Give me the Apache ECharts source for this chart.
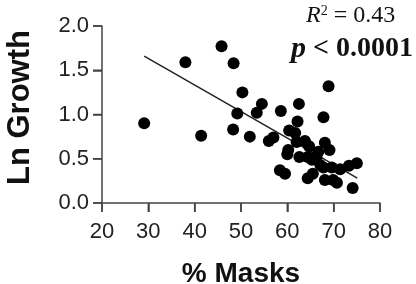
<!DOCTYPE html>
<html>
<head>
<meta charset="utf-8">
<script src="https://cdn.jsdelivr.net/npm/echarts@6/dist/echarts.min.js"></script>
<style>
  html, body { margin: 0; padding: 0; background: #fff; }
  #chart { width: 416px; height: 284px; }
</style>
</head>
<body>
<div id="chart"></div>
<script>
// % masks vs ln growth
var masks = [29.1, 38.0, 45.8, 48.4, 50.3, 41.4, 49.2, 48.3, 53.4, 54.5,
    51.9, 58.6, 62.5, 62.2, 68.9, 67.8, 56.0, 57.0, 60.4, 61.7,
    62.0, 63.8, 64.7, 68.1, 69.1, 60.2, 60.0, 62.6, 64.4, 65.3,
    66.7, 66.3, 67.1, 67.8, 69.6, 71.4, 73.3, 75.0, 58.4, 59.5,
    64.4, 65.5, 68.1, 69.9, 70.7, 74.1];
var lnGrowth = [0.90, 1.59, 1.77, 1.58, 1.25, 0.76, 1.01, 0.83, 1.02, 1.12,
    0.75, 1.04, 1.12, 0.92, 1.32, 0.97, 0.70, 0.74, 0.82, 0.79,
    0.69, 0.70, 0.64, 0.68, 0.60, 0.60, 0.55, 0.52, 0.52, 0.49,
    0.58, 0.52, 0.43, 0.40, 0.40, 0.38, 0.42, 0.45, 0.37, 0.33,
    0.28, 0.33, 0.26, 0.26, 0.23, 0.17];
// fitted line ends
var fitX = [29.1, 75.1];
var fitY = [1.66, 0.28];
var xTicks = [20, 30, 40, 50, 60, 70, 80];
var yTicks = ['0.0', '0.5', '1.0', '1.5', '2.0'];

var pts = [];
for (var i = 0; i < masks.length; i++) {
    pts.push([masks[i], lnGrowth[i]]);
}
var fit = [[fitX[0], fitY[0]], [fitX[1], fitY[1]]];

var xTickData = xTicks.map(function (v) { return [v, 0]; });
var yTickData = yTicks.map(function (t) { return [20, parseFloat(t)]; });

var axisCol = '#444';

// ticks as small filled rects, placed through the axes
function tickSeries(data, vertical) {
    return {
        type: 'custom', data: data, clip: false, silent: true, z: 5,
        renderItem: function (params, api) {
            var p = api.coord([api.value(0), api.value(1)]);
            var shape = vertical
                ? { x: p[0] - 0.75, y: p[1], width: 1.5, height: 9 }
                : { x: p[0] - 9, y: p[1] - 0.75, width: 9, height: 1.5 };
            return { type: 'rect', shape: shape, style: { fill: axisCol } };
        }
    };
}

var myChart = echarts.init(document.getElementById('chart'));
myChart.setOption({
    animation: false,
    grid: { left: 102, right: 36, top: 26, bottom: 81, outerBoundsMode: 'none', containLabel: false },
    xAxis: {
        type: 'value', min: 20, max: 80, interval: 10,
        name: '% Masks', nameLocation: 'middle', nameGap: 57,
        nameTextStyle: { fontFamily: 'Liberation Sans', fontWeight: 'bold', fontSize: 28, color: '#111' },
        axisLine: { show: true, onZero: false, lineStyle: { color: axisCol, width: 1.5 } },
        axisTick: { show: true, length: 9, lineStyle: { color: axisCol, width: 1.5 } },
        axisLabel: {
            fontFamily: 'Liberation Sans', fontSize: 22, color: '#222', margin: 18,
            formatter: function (v) { return xTicks.indexOf(v) >= 0 ? String(v) : ''; }
        },
        splitLine: { show: false }
    },
    yAxis: {
        type: 'value', min: 0, max: 2, interval: 0.5,
        name: 'Ln Growth', nameLocation: 'middle', nameGap: 66, nameRotate: 90,
        nameTextStyle: { fontFamily: 'Liberation Sans', fontWeight: 'bold', fontSize: 31, color: '#111', padding: [0, 0, 0, 14] },
        axisLine: { show: true, onZero: false, lineStyle: { color: axisCol, width: 1.5 } },
        axisTick: { show: true, length: 9, lineStyle: { color: axisCol, width: 1.5 } },
        axisLabel: {
            fontFamily: 'Liberation Sans', fontSize: 22, color: '#222', margin: 13,
            formatter: function (v) { return yTicks[Math.round(v * 2)]; }
        },
        splitLine: { show: false }
    },
    graphic: [
        {
            type: 'text', left: 306, top: 4,
            style: {
                text: '{i|R}{s|2} = 0.43',
                font: '24px "Liberation Serif"', fill: '#111',
                rich: {
                    i: { fontFamily: 'Liberation Serif', fontStyle: 'italic', fontSize: 24 },
                    s: { fontFamily: 'Liberation Serif', fontSize: 14, verticalAlign: 'top', padding: [0, 0, 10, 0] }
                }
            }
        },
        {
            type: 'text', left: 291, top: 34,
            style: {
                text: '{i|p} < 0.0001',
                font: 'bold 28px "Liberation Serif"', fill: '#111',
                rich: {
                    i: { fontFamily: 'Liberation Serif', fontStyle: 'italic', fontWeight: 'bold', fontSize: 30 }
                }
            }
        }
    ],
    series: [
        {
            type: 'line', data: fit, symbol: 'none',
            lineStyle: { color: '#222', width: 1.5 }, z: 1
        },
        {
            type: 'scatter', data: pts, symbolSize: 12,
            itemStyle: { color: '#000', opacity: 1 }, z: 2
        },
        tickSeries(xTickData, true),
        tickSeries(yTickData, false)
    ]
});
</script>
</body>
</html>
